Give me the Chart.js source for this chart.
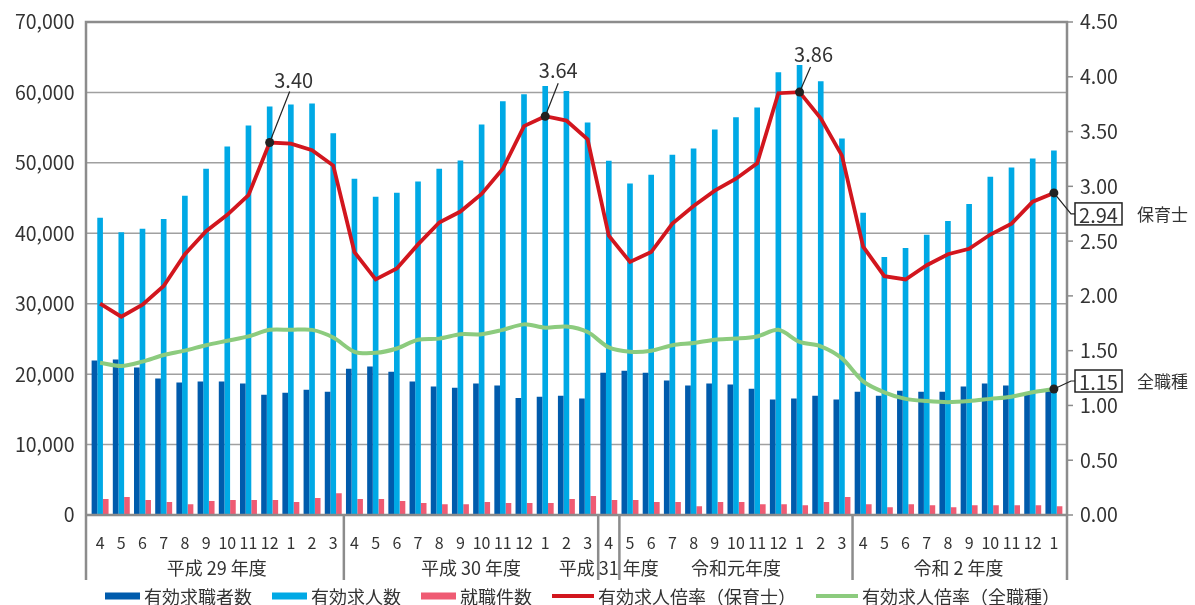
<!DOCTYPE html>
<html lang="ja">
<head>
<meta charset="utf-8">
<style>
  html, body { margin: 0; padding: 0; background: #fff; }
  #wrap { width: 1195px; height: 605px; }
</style>
</head>
<body>
<div id="wrap"><canvas id="myChart" width="1195" height="605"></canvas></div>
<script src="https://cdn.jsdelivr.net/npm/chart.js@4/dist/chart.umd.min.js"></script>
<script>
"use strict";

// months, grouped by fiscal year
const months = [
  "4", "5", "6", "7", "8", "9", "10", "11", "12", "1", "2", "3",
  "4", "5", "6", "7", "8", "9", "10", "11", "12", "1", "2", "3",
  "4",
  "5", "6", "7", "8", "9", "10", "11", "12", "1", "2", "3",
  "4", "5", "6", "7", "8", "9", "10", "11", "12", "1",
];
const yearLabels = ["平成 29 年度", "平成 30 年度", "平成 31 年度", "令和元年度", "令和 2 年度"];
const yearLengths = [12, 12, 1, 11, 10];

// 有効求職者数
const jobSeekers = [
  21940, 22080, 20930, 19380, 18800, 18950, 18950, 18660, 17070, 17360, 17790, 17500,
  20780, 21070, 20350, 18950, 18230, 18080, 18660, 18370, 16630, 16780, 16920, 16540,
  20200,
  20490, 20200, 19090, 18370, 18660, 18520, 17940, 16390, 16540, 16920, 16390,
  17500, 16920, 17650, 17500, 17500, 18230, 18660, 18370, 17120, 17600,
];
// 有効求人数
const jobOpenings = [
  42200, 40160, 40650, 42040, 45320, 49180, 52310, 55300, 58000, 58290, 58440, 54190,
  47730, 45180, 45760, 47350, 49180, 50340, 55450, 58730, 59740, 60900, 60220, 55740,
  50290,
  47060, 48310, 51160, 52030, 54730, 56460, 57860, 62870, 63890, 61570, 53470,
  42910, 36640, 37900, 39780, 41760, 44170, 48020, 49330, 50630, 51740,
];
// 就職件数
const placements = [
  2270, 2560, 2120, 1830, 1540, 1980, 2120, 2120, 2120, 1830, 2410, 3090,
  2270, 2270, 1980, 1690, 1540, 1540, 1830, 1690, 1690, 1690, 2270, 2700,
  2120,
  2120, 1830, 1830, 1250, 1830, 1830, 1540, 1540, 1400, 1830, 2560,
  1540, 1110, 1540, 1400, 1110, 1400, 1400, 1400, 1400, 1250,
];
// 有効求人倍率（保育士）
const nurseRatio = [
  1.93, 1.81, 1.92, 2.09, 2.38, 2.59, 2.74, 2.92, 3.40, 3.39, 3.33, 3.19,
  2.40, 2.15, 2.25, 2.47, 2.67, 2.77, 2.93, 3.16, 3.55, 3.64, 3.60, 3.43,
  2.55,
  2.31, 2.40, 2.66, 2.82, 2.96, 3.07, 3.21, 3.85, 3.86, 3.62, 3.28,
  2.45, 2.18, 2.15, 2.28, 2.38, 2.43, 2.56, 2.66, 2.86, 2.94,
];
// 有効求人倍率（全職種）
const allRatio = [
  1.39, 1.36, 1.40, 1.46, 1.50, 1.55, 1.59, 1.63, 1.69, 1.69, 1.69, 1.62,
  1.49, 1.48, 1.52, 1.60, 1.61, 1.65, 1.65, 1.69, 1.74, 1.71, 1.72, 1.67,
  1.53,
  1.49, 1.50, 1.55, 1.57, 1.60, 1.61, 1.63, 1.69, 1.58, 1.54, 1.43,
  1.22, 1.12, 1.06, 1.04, 1.03, 1.04, 1.06, 1.08, 1.12, 1.15,
];

const peakIdx = [8, 21, 33];
const lastIdx = months.length - 1;

const FONT = "'Noto Sans CJK JP', 'Noto Sans', sans-serif";
const TEXT = "#333333";
const FRAME = "#8c8c8c";

// label offsets for the three peak call-outs (label centre, leader end)
const peakCallouts = [
  { dx: 24, dy: -62, lx: 20, ly: -51 },
  { dx: 13, dy: -46, lx: 13, ly: -33 },
  { dx: 14, dy: -38, lx: 11, ly: -25 },
];

const frameLeft = 86;
const frameRight = 1067;
const plotLeft = 89.5;
const plotRight = 1064.5;
const plotTop = 22;
const plotBottom = 515;

function markSizer(indexes) {
  return (c) => (indexes.includes(c.dataIndex) ? 4.5 : 0);
}

const framePlugin = {
  id: "frame",
  beforeDatasetsDraw(chart) {
    const { ctx, scales } = chart;
    ctx.save();
    ctx.strokeStyle = "#a0a0a0";
    ctx.lineWidth = 1.5;
    scales.y.ticks.forEach((t) => {
      const y = scales.y.getPixelForValue(t.value);
      ctx.beginPath();
      ctx.moveTo(frameLeft, y);
      ctx.lineTo(frameRight, y);
      ctx.stroke();
    });
    ctx.restore();
  },
  afterDatasetsDraw(chart) {
    const { ctx, scales, chartArea } = chart;
    const x = scales.x;
    const y2 = scales.y2;
    const top = chartArea.top;
    const bottom = chartArea.bottom;
    ctx.save();

    // frame
    ctx.strokeStyle = FRAME;
    ctx.lineWidth = 2.5;
    ctx.beginPath();
    ctx.moveTo(frameLeft, 580);
    ctx.lineTo(frameLeft, top);
    ctx.lineTo(frameRight, top);
    ctx.lineTo(frameRight, 580);
    ctx.moveTo(frameLeft, bottom);
    ctx.lineTo(frameRight, bottom);
    ctx.stroke();

    // right axis tick marks
    ctx.lineWidth = 1.5;
    y2.ticks.forEach((t) => {
      const yy = y2.getPixelForValue(t.value);
      ctx.beginPath();
      ctx.moveTo(frameRight, yy);
      ctx.lineTo(frameRight + 6, yy);
      ctx.stroke();
    });

    // fiscal year separators and labels
    ctx.font = "18px " + FONT;
    ctx.fillStyle = TEXT;
    ctx.textAlign = "center";
    ctx.textBaseline = "middle";
    let start = 0;
    yearLengths.forEach((len, k) => {
      const end = start + len - 1;
      const cx = (x.getPixelForValue(start) + x.getPixelForValue(end)) / 2;
      ctx.fillText(yearLabels[k], cx, 568);
      if (end < lastIdx) {
        const sx = (x.getPixelForValue(end) + x.getPixelForValue(end + 1)) / 2;
        ctx.lineWidth = 2.5;
        ctx.beginPath();
        ctx.moveTo(sx, bottom);
        ctx.lineTo(sx, 580);
        ctx.stroke();
      }
      start += len;
    });

    // peak call-outs on the 保育士 line
    const red = chart.getDatasetMeta(3).data;
    ctx.strokeStyle = "#222";
    ctx.lineWidth = 1.2;
    ctx.font = "20px " + FONT;
    peakIdx.forEach((i, k) => {
      const p = red[i];
      const c = peakCallouts[k];
      ctx.beginPath();
      ctx.moveTo(p.x, p.y);
      ctx.lineTo(p.x + c.lx, p.y + c.ly);
      ctx.stroke();
      ctx.fillText(nurseRatio[i].toFixed(2), p.x + c.dx, p.y + c.dy);
    });

    // end-of-line boxes
    const green = chart.getDatasetMeta(4).data;
    const ends = [
      { p: red[lastIdx], val: nurseRatio[lastIdx], name: "保育士", off: 21 },
      { p: green[lastIdx], val: allRatio[lastIdx], name: "全職種", off: -8 },
    ];
    ends.forEach((e) => {
      const by = e.p.y + e.off;
      ctx.strokeStyle = "#222";
      ctx.lineWidth = 1.2;
      ctx.beginPath();
      ctx.moveTo(e.p.x, e.p.y);
      ctx.lineTo(1071, by);
      ctx.lineTo(1075, by);
      ctx.stroke();
      ctx.lineWidth = 1.5;
      ctx.fillStyle = "#fff";
      ctx.fillRect(1075, by - 11, 47, 22);
      ctx.strokeRect(1075, by - 11, 47, 22);
      ctx.fillStyle = TEXT;
      ctx.font = "20px " + FONT;
      ctx.textAlign = "center";
      ctx.fillText(e.val.toFixed(2), 1098.5, by + 1);
      ctx.font = "17px " + FONT;
      ctx.textAlign = "left";
      ctx.fillText(e.name, 1137, by + 1);
    });

    // legend
    ctx.font = "18px " + FONT;
    ctx.textAlign = "left";
    const items = chart.data.datasets.map((ds) => ({
      label: ds.label,
      color: ds.type === "line" ? ds.borderColor : ds.backgroundColor,
      h: ds.type === "line" ? 4 : 7,
      w: ds.type === "line" ? 42 : 35,
    }));
    const gap = 4;
    const itemGap = 20;
    let total = 0;
    items.forEach((it) => {
      it.tw = ctx.measureText(it.label).width;
      total += it.w + gap + it.tw;
    });
    total += itemGap * (items.length - 1);
    let lx = (frameLeft + frameRight) / 2 - total / 2 + 6;
    const ly = 596;
    items.forEach((it) => {
      ctx.fillStyle = it.color;
      ctx.fillRect(lx, ly - it.h / 2, it.w, it.h);
      ctx.fillStyle = TEXT;
      ctx.fillText(it.label, lx + it.w + gap, ly + 1);
      lx += it.w + gap + it.tw + itemGap;
    });

    ctx.restore();
  },
};

Chart.defaults.font.family = FONT;
Chart.defaults.color = TEXT;

function fixSide(width) {
  return (s) => {
    s.width = width;
    s.paddingTop = 0;
    s.paddingBottom = 0;
  };
}

const config = {
  type: "bar",
  data: {
    labels: months,
    datasets: [
      {
        label: "有効求職者数",
        data: jobSeekers,
        backgroundColor: "#005bac",
        yAxisID: "y",
        order: 1,
      },
      {
        label: "有効求人数",
        data: jobOpenings,
        backgroundColor: "#00a9e5",
        yAxisID: "y",
        order: 1,
      },
      {
        label: "就職件数",
        data: placements,
        backgroundColor: "#ef5b73",
        yAxisID: "y",
        order: 1,
      },
      {
        type: "line",
        label: "有効求人倍率（保育士）",
        data: nurseRatio,
        borderColor: "#d2161e",
        borderWidth: 3.8,
        tension: 0,
        pointRadius: markSizer(peakIdx.concat([lastIdx])),
        pointBackgroundColor: "#222",
        pointBorderWidth: 0,
        yAxisID: "y2",
        order: 0,
      },
      {
        type: "line",
        label: "有効求人倍率（全職種）",
        data: allRatio,
        borderColor: "#8ccb7e",
        borderWidth: 4,
        tension: 0.3,
        pointRadius: markSizer([lastIdx]),
        pointBackgroundColor: "#222",
        pointBorderWidth: 0,
        yAxisID: "y2",
        order: 0,
      },
    ],
  },
  options: {
    responsive: false,
    animation: false,
    layout: { padding: { top: plotTop, left: 0, right: 0, bottom: 0 } },
    datasets: {
      bar: { categoryPercentage: 0.8, barPercentage: 1.0 },
    },
    plugins: {
      legend: { display: false },
      tooltip: { enabled: false },
    },
    scales: {
      x: {
        grid: { display: false, drawTicks: false },
        border: { display: false },
        ticks: {
          autoSkip: false,
          maxRotation: 0,
          padding: 18,
          font: { size: 16 },
          color: TEXT,
        },
        afterFit(s) {
          s.height = 605 - plotBottom;
          s.paddingLeft = 0;
          s.paddingRight = 0;
        },
      },
      y: {
        position: "left",
        min: 0,
        max: 70000,
        grid: { display: false, drawTicks: false },
        border: { display: false },
        ticks: {
          stepSize: 10000,
          padding: 15,
          font: { size: 19.5 },
          color: TEXT,
          callback: (v) => v.toLocaleString("en-US"),
        },
        afterFit: fixSide(plotLeft),
      },
      y2: {
        position: "right",
        min: 0,
        max: 4.5,
        grid: { display: false, drawTicks: false },
        border: { display: false },
        ticks: {
          stepSize: 0.5,
          padding: 15.5,
          font: { size: 19.5 },
          color: TEXT,
          callback: (v) => v.toFixed(2),
        },
        afterFit: fixSide(1195 - plotRight),
      },
    },
  },
  plugins: [framePlugin],
};

new Chart(document.getElementById("myChart"), config);
</script>
</body>
</html>
